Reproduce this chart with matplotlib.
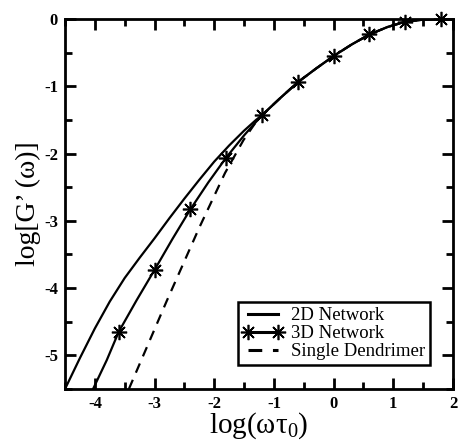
import matplotlib
matplotlib.use("Agg")
import matplotlib.pyplot as plt
from matplotlib.ticker import MultipleLocator

plt.rcParams['font.family'] = ['Liberation Serif', 'DejaVu Serif']
plt.rcParams['mathtext.fontset'] = 'custom'
plt.rcParams['mathtext.rm'] = 'Liberation Serif'
plt.rcParams['mathtext.it'] = 'Liberation Serif'
plt.rcParams['axes.unicode_minus'] = False

# 2D Network
x2d = [-4.5, -4.25, -4.0, -3.75, -3.5, -3.25, -3.0, -2.75, -2.5, -2.25, -2.0, -1.75, -1.5, -1.3, -1.2,
       -0.9, -0.6, -0.3, 0.0, 0.3, 0.6, 0.9, 1.2, 1.5, 1.8]
y2d = [-5.5, -5.04, -4.6, -4.2, -3.85, -3.55, -3.26, -2.96, -2.67, -2.39, -2.12, -1.88, -1.66, -1.5, -1.43,
       -1.18, -0.94, -0.74, -0.55, -0.38, -0.23, -0.12, -0.04, -0.01, 0.0]

# 3D Network (line)
x3d = [-4.03, -3.8, -3.6, -3.3, -3.0, -2.7, -2.4, -2.1, -1.8, -1.5, -1.2,
       -0.9, -0.6, -0.3, 0.0, 0.3, 0.6, 0.9, 1.2, 1.5, 1.8]
y3d = [-5.5, -5.07, -4.65, -4.18, -3.73, -3.27, -2.83, -2.43, -2.06, -1.73, -1.43,
       -1.18, -0.94, -0.74, -0.55, -0.38, -0.23, -0.12, -0.04, -0.01, 0.0]
# 3D Network (markers)
x3d_mk = [-3.6, -3.0, -2.4, -1.8, -1.2, -0.6, 0.0, 0.6, 1.2, 1.8]
y3d_mk = [-4.65, -3.73, -2.83, -2.06, -1.43, -0.94, -0.55, -0.23, -0.04, 0.0]

# Single Dendrimer
xsd = [-3.43, -2.8, -2.25, -1.82, -1.51, -1.3, -1.2,
       -0.9, -0.6, -0.3, 0.0, 0.3, 0.6, 0.9, 1.2, 1.5, 1.8]
ysd = [-5.5, -4.2, -3.1, -2.29, -1.8, -1.53, -1.43,
       -1.18, -0.94, -0.74, -0.55, -0.38, -0.23, -0.12, -0.04, -0.01, 0.0]

xticks = [-4, -3, -2, -1, 0, 1, 2]
yticks = [0, -1, -2, -3, -4, -5]

fig = plt.figure(figsize=(4.6, 4.45), dpi=100)
ax = fig.add_axes([65/460, 56/445, 388/460, 370/445])

star = (8, 2, 0)
ax.plot(x2d, y2d, color='black', lw=1.6, label='2D Network')
ax.plot(x3d, y3d, color='black', lw=1.6)
ax.plot(x3d_mk, y3d_mk, linestyle='none', marker=star, ms=11, mew=1.2,
        color='black', clip_on=False)
ax.plot([], [], color='black', lw=1.6, marker=star, ms=11, mew=1.2, label='3D Network')
ax.plot(xsd, ysd, color='black', lw=1.6, ls=(0, (4.5, 3.5)), label='Single Dendrimer')

ax.set_xlim(-4.5, 2)
ax.set_ylim(-5.5, 0)
ax.set_xticks(xticks)
ax.set_yticks(yticks)
ax.xaxis.set_minor_locator(MultipleLocator(0.5))
ax.yaxis.set_minor_locator(MultipleLocator(0.5))
ax.tick_params(which='both', direction='in', top=True, right=True, width=2)
ax.tick_params(which='major', length=8, labelsize=12, pad=5)
ax.tick_params(which='minor', length=5)
for lab in ax.get_xticklabels() + ax.get_yticklabels():
    lab.set_fontweight('bold')
for s in ax.spines.values():
    s.set_linewidth(2)

ax.set_xlabel('log(ωτ$_0$)', fontsize=21, labelpad=-1)
ax.set_ylabel('log[G’ (ω)]', fontsize=20, labelpad=2)

leg = ax.legend(loc='lower right', bbox_to_anchor=(0.941, 0.065), fontsize=13.5,
                frameon=True, fancybox=False, edgecolor='black', framealpha=1,
                handlelength=2.2, numpoints=2, labelspacing=0.05, borderpad=0.25,
                handletextpad=0.4, borderaxespad=0)
leg.get_frame().set_linewidth(1.8)
for ln in leg.get_lines():
    ln.set_linewidth(2.2)

fig.savefig('out.png', dpi=100)
